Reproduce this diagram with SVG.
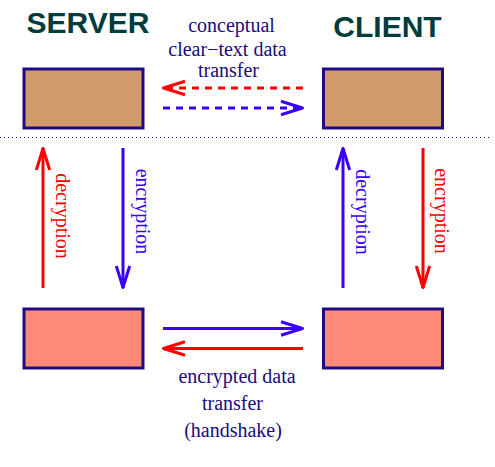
<svg xmlns="http://www.w3.org/2000/svg" width="495" height="467" viewBox="0 0 495 467">
<style>
.box{stroke:#200a80;stroke-width:3}
.tan{fill:#d29b6b}
.salmon{fill:#ff8a78}
.head{font-family:"Liberation Sans",Arial,sans-serif;font-weight:bold;font-size:30px;fill:#003c3c;text-anchor:middle}
.lbl{font-family:"Liberation Serif","Times New Roman",serif;font-size:20px;fill:#200a80;text-anchor:middle}
.vl{font-family:"Liberation Serif","Times New Roman",serif;font-size:20px;text-anchor:middle}
.r{stroke:#ff0000}
.b{stroke:#3a00ff}
.rt{fill:#ff0000}
.bt{fill:#3a00ff}
.ln{stroke-width:3;fill:none}
.dash{stroke-dasharray:7 6}
</style>
<defs>
<marker id="ahR" markerUnits="userSpaceOnUse" markerWidth="30" markerHeight="20" refX="23" refY="8" orient="auto" overflow="visible">
<path d="M1,1.3 L22.5,8 L1,14.7" fill="none" stroke="#ff0000" stroke-width="3" stroke-linejoin="round"/>
</marker>
<marker id="ahB" markerUnits="userSpaceOnUse" markerWidth="30" markerHeight="20" refX="23" refY="8" orient="auto" overflow="visible">
<path d="M1,1.3 L22.5,8 L1,14.7" fill="none" stroke="#3a00ff" stroke-width="3" stroke-linejoin="round"/>
</marker>
</defs>
<rect width="495" height="467" fill="#ffffff"/>
<text class="head" x="88" y="33">SERVER</text>
<text class="head" x="387.5" y="37">CLIENT</text>
<g id="server-top"><rect class="box tan" x="24" y="69" width="119" height="59"/></g>
<g id="client-top"><rect class="box tan" x="323.5" y="69" width="119" height="59"/></g>
<g id="server-bottom"><rect class="box salmon" x="24" y="309" width="119" height="59"/></g>
<g id="client-bottom"><rect class="box salmon" x="323.5" y="309" width="119" height="59"/></g>
<line x1="0" y1="137.5" x2="491" y2="137.5" stroke="#200a80" stroke-width="1" stroke-dasharray="1 3"/>
<g id="connectors">
<line class="ln r dash" x1="303" y1="88" x2="163" y2="88" marker-end="url(#ahR)"/>
<line class="ln b dash" x1="163" y1="108" x2="303" y2="108" marker-end="url(#ahB)"/>
<line class="ln b" x1="163" y1="328.5" x2="303" y2="328.5" marker-end="url(#ahB)"/>
<line class="ln r" x1="303" y1="348.5" x2="163" y2="348.5" marker-end="url(#ahR)"/>
<line class="ln r" x1="43" y1="288" x2="43" y2="148" marker-end="url(#ahR)"/>
<line class="ln b" x1="123" y1="148" x2="123" y2="288" marker-end="url(#ahB)"/>
<line class="ln b" x1="343" y1="288" x2="343" y2="148" marker-end="url(#ahB)"/>
<line class="ln r" x1="423" y1="148" x2="423" y2="288" marker-end="url(#ahR)"/>
</g>
<g id="labels">
<text class="lbl" x="231.5" y="32">conceptual</text>
<text class="lbl" x="227.5" y="56">clear−text data</text>
<text class="lbl" x="228.5" y="77">transfer</text>
<text class="lbl" x="237" y="383">encrypted data</text>
<text class="lbl" x="232.5" y="410">transfer</text>
<text class="lbl" x="233" y="437">(handshake)</text>
<text class="vl rt" transform="translate(56,216) rotate(90)">decryption</text>
<text class="vl bt" transform="translate(136,211.5) rotate(90)">encryption</text>
<text class="vl bt" transform="translate(356,212) rotate(90)">decryption</text>
<text class="vl rt" transform="translate(435,211) rotate(90)">encryption</text>
</g>
</svg>
